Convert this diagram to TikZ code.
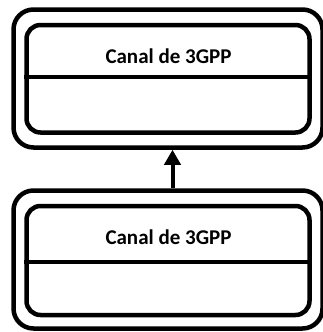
\documentclass[tikz,border=0pt]{standalone}
\usepackage{fontspec}
\setmainfont{Carlito}
\usetikzlibrary{arrows.meta}
\begin{document}
\begin{tikzpicture}[x=1pt,y=-1pt,
  outerbox/.style={draw=black,line width=4.5pt,rounded corners=20pt,minimum width=309pt,minimum height=138pt,inner sep=0pt},
  innerbox/.style={draw=black,line width=4.5pt,rounded corners=14pt,minimum width=283pt,inner sep=0pt},
  divider/.style={line width=4pt},
  label/.style={font=\bfseries\fontsize{21}{24}\selectfont,anchor=base,inner sep=0pt},
  conn/.style={line width=4pt,-{Triangle[length=15pt,width=16pt]}}]
\useasboundingbox (0,0) rectangle (322,332);
% top block
\node[outerbox] (o1) at (168,78.5) {};
\node[innerbox,minimum height=107.5pt] (i1) at (168,78.75) {};
\draw[divider] (i1.west |- 0,76.5) -- (i1.east |- 0,76.5);
\node[label] (t1) at (168.5,63) {Canal de 3GPP};
% bottom block
\node[outerbox] (o2) at (168,259.5) {};
\node[innerbox,minimum height=109pt] (i2) at (168,260.5) {};
\draw[divider] (i2.west |- 0,262) -- (i2.east |- 0,262);
\node[label] (t2) at (168.5,244) {Canal de 3GPP};
% connector
\draw[conn] ([xshift=4.5pt]o2.north) -- ([xshift=4.5pt]o1.south);
\end{tikzpicture}
\end{document}
